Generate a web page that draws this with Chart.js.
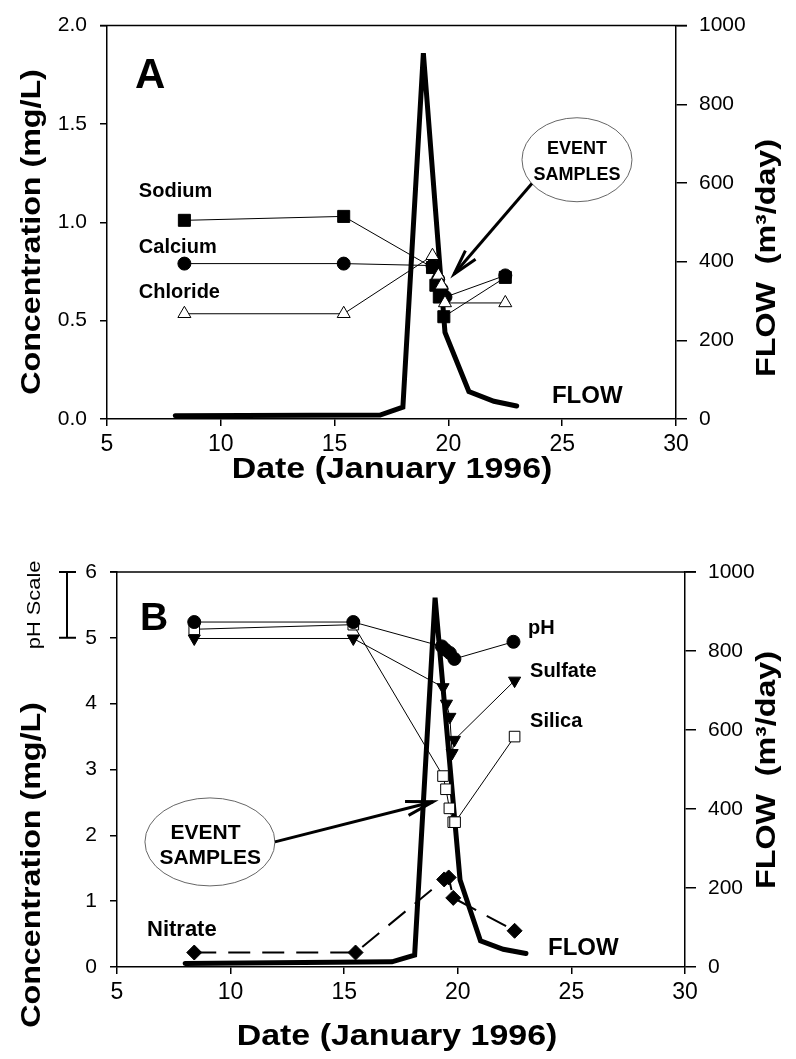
<!DOCTYPE html>
<html>
<head>
<meta charset="utf-8">
<script src="https://cdn.jsdelivr.net/npm/chart.js@4.4.1/dist/chart.umd.min.js"></script>
<style>
html, body { margin: 0; padding: 0; background: #fff; }
#wrap { position: relative; width: 796px; height: 1059px; }
canvas { position: absolute; left: 0; }
</style>
</head>
<body>
<div id="wrap">
  <canvas id="chartA" width="796" height="500" style="top:0"></canvas>
  <canvas id="chartB" width="796" height="539" style="top:520px"></canvas>
</div>
<script>
const FONT = '"Liberation Sans", Arial, Helvetica, sans-serif';

// ---- panel A : major ions ----
const flowDaysA = [8, 17, 18, 18.9, 19.85, 20.9, 22, 23];
const flowA = [8, 10, 30, 930, 220, 70, 45, 33];
const sodiumDays = [8.4, 15.4, 19.3, 19.45, 19.6, 19.8, 22.5];
const sodium = [1.01, 1.03, 0.77, 0.68, 0.62, 0.52, 0.72];
const calciumDays = [8.4, 15.4, 19.3, 19.55, 19.7, 19.87, 22.5];
const calcium = [0.79, 0.79, 0.78, 0.71, 0.66, 0.62, 0.73];
const chlorideDays = [8.4, 15.4, 19.3, 19.56, 19.7, 19.85, 22.5];
const chloride = [0.535, 0.535, 0.83, 0.73, 0.68, 0.59, 0.59];

// ---- panel B : pH, sulfate, silica, nitrate ----
const flowDaysB = [8, 17.1, 18.1, 19.0, 20.1, 21.0, 22.0, 23.0];
const flowB = [9, 13, 30, 935, 220, 66, 45, 34];
const phDays = [8.4, 15.4, 19.3, 19.45, 19.65, 19.85, 22.45];
const ph = [5.24, 5.24, 4.87, 4.82, 4.77, 4.68, 4.94];
const sulfateDays = [8.4, 15.4, 19.35, 19.5, 19.65, 19.75, 19.85, 22.5];
const sulfate = [4.99, 4.99, 4.25, 4.0, 3.8, 3.25, 3.45, 4.35];
const silicaDays = [8.4, 15.4, 19.35, 19.48, 19.63, 19.8, 19.88, 22.5];
const silica = [5.13, 5.2, 2.9, 2.7, 2.41, 2.2, 2.2, 3.5];
const nitrateDays = [8.4, 15.5, 19.4, 19.6, 19.8, 22.5];
const nitrate = [0.22, 0.22, 1.33, 1.36, 1.05, 0.55];

function pts(xs, ys) { return xs.map((x, i) => ({x: x, y: ys[i]})); }

function series(label, xs, ys, style, r, fill, rot, dash) {
  return {
    label: label, data: pts(xs, ys), yAxisID: 'y',
    borderColor: '#000', borderWidth: dash ? 2 : 1, borderDash: dash || [],
    pointStyle: style, pointRadius: r, pointRotation: rot || 0,
    pointBackgroundColor: fill, pointBorderColor: '#000', pointBorderWidth: 1,
    tension: 0, fill: false
  };
}

function flowSet(xs, ys) {
  return {
    label: 'FLOW', data: pts(xs, ys), yAxisID: 'y2',
    borderColor: '#000', borderWidth: 5, pointRadius: 0,
    borderCapStyle: 'round', tension: 0, fill: false
  };
}

function scales(xh, lw, rw, ymax, ystep, fmt) {
  const grid = {drawOnChartArea: false, color: '#000', lineWidth: 1.5};
  const border = {color: '#000', width: 1.5};
  return {
    x: {type: 'linear', min: 5, max: 30, position: 'bottom',
      ticks: {stepSize: 5, color: '#000', font: {family: FONT, size: 23}, padding: 5, maxRotation: 0},
      grid: Object.assign({tickLength: 7}, grid), border: border,
      afterFit: s => { s.height = xh; }},
    y: {type: 'linear', min: 0, max: ymax, position: 'left',
      ticks: {stepSize: ystep, color: '#000', font: {family: FONT, size: 21}, padding: 13, callback: fmt},
      grid: Object.assign({tickLength: 7}, grid), border: border,
      afterFit: s => { s.width = lw; }},
    y2: {type: 'linear', min: 0, max: 1000, position: 'right',
      ticks: {stepSize: 200, color: '#000', font: {family: FONT, size: 21}, padding: 12, callback: v => String(v)},
      grid: Object.assign({tickLength: 11}, grid), border: border,
      afterFit: s => { s.width = rw; }}
  };
}

function text(ctx, str, x, y, size, opt) {
  opt = opt || {};
  ctx.save();
  ctx.translate(x, y);
  if (opt.rot) ctx.rotate(opt.rot);
  ctx.scale(opt.sx || 1, opt.sy || 1);
  ctx.font = (opt.weight || 'bold') + ' ' + size + 'px ' + FONT;
  ctx.textAlign = opt.align || 'left';
  ctx.textBaseline = 'alphabetic';
  ctx.fillStyle = '#000';
  ctx.fillText(str, 0, size * 0.358);
  ctx.restore();
}

function arrow(ctx, x1, y1, x2, y2, len, ang) {
  ctx.save();
  ctx.strokeStyle = '#000';
  ctx.lineWidth = 3;
  ctx.beginPath(); ctx.moveTo(x1, y1); ctx.lineTo(x2, y2); ctx.stroke();
  const a = Math.atan2(y1 - y2, x1 - x2);
  ctx.beginPath();
  ctx.moveTo(x2 + len * Math.cos(a + ang), y2 + len * Math.sin(a + ang));
  ctx.lineTo(x2, y2);
  ctx.lineTo(x2 + len * Math.cos(a - ang), y2 + len * Math.sin(a - ang));
  ctx.stroke();
  ctx.restore();
}

function ellipse(ctx, cx, cy, rx, ry) {
  ctx.save();
  ctx.strokeStyle = '#666';
  ctx.lineWidth = 1;
  ctx.beginPath(); ctx.ellipse(cx, cy, rx, ry, 0, 0, Math.PI * 2); ctx.stroke();
  ctx.restore();
}

function topLine(chart) {
  const a = chart.chartArea, ctx = chart.ctx;
  ctx.save();
  ctx.strokeStyle = '#000'; ctx.lineWidth = 1.5;
  ctx.beginPath(); ctx.moveTo(a.left - 7, a.top); ctx.lineTo(a.right + 11, a.top); ctx.stroke();
  ctx.restore();
}

const decorA = {
  id: 'decorA',
  afterDraw(chart) {
    const ctx = chart.ctx, X = v => chart.scales.x.getPixelForValue(v), Y = v => chart.scales.y.getPixelForValue(v);
    topLine(chart);
    text(ctx, 'A', X(6.23), Y(1.76), 42);
    text(ctx, 'Sodium', X(6.4), Y(1.167), 20);
    text(ctx, 'Calcium', X(6.4), Y(0.882), 20);
    text(ctx, 'Chloride', X(6.4), Y(0.654), 20);
    text(ctx, 'FLOW', X(24.55), Y(0.127), 24);
    ellipse(ctx, X(25.65), Y(1.318), 55, 42);
    text(ctx, 'EVENT', X(25.65), Y(1.38), 18, {align: 'center'});
    text(ctx, 'SAMPLES', X(25.65), Y(1.25), 18, {align: 'center'});
    arrow(ctx, X(23.67), Y(1.197), X(20.25), Y(0.737), 26, 0.26);
    text(ctx, 'Concentration (mg/L)', 30, 232, 28, {rot: -Math.PI / 2, align: 'center', sx: 1.15});
    text(ctx, 'FLOW  (m³/day)', 765, 258, 28, {rot: -Math.PI / 2, align: 'center', sx: 1.15});
    text(ctx, 'Date (January 1996)', 392, 468, 29, {align: 'center', sx: 1.17});
  }
};

const decorB = {
  id: 'decorB',
  afterDraw(chart) {
    const ctx = chart.ctx, X = v => chart.scales.x.getPixelForValue(v), Y = v => chart.scales.y.getPixelForValue(v);
    topLine(chart);
    text(ctx, 'B', X(6.01), Y(5.33), 39);
    text(ctx, 'pH', X(23.09), Y(5.16), 20);
    text(ctx, 'Sulfate', X(23.18), Y(4.51), 20);
    text(ctx, 'Silica', X(23.18), Y(3.75), 20);
    text(ctx, 'Nitrate', X(6.32), Y(0.59), 22);
    text(ctx, 'FLOW', X(23.97), Y(0.32), 24);
    ellipse(ctx, X(9.09), Y(1.9), 65, 44);
    text(ctx, 'EVENT', X(8.9), Y(2.055), 21, {align: 'center'});
    text(ctx, 'SAMPLES', X(9.1), Y(1.675), 21, {align: 'center'});
    arrow(ctx, X(11.95), Y(1.9), X(18.91), Y(2.51), 28, 0.26);
    // pH scale bracket: one pH unit on the concentration axis
    const b = 67;
    ctx.save();
    ctx.strokeStyle = '#000'; ctx.lineWidth = 2;
    ctx.beginPath();
    ctx.moveTo(b, Y(6)); ctx.lineTo(b, Y(5));
    ctx.moveTo(b - 8, Y(6)); ctx.lineTo(b + 9, Y(6));
    ctx.moveTo(b - 8, Y(5)); ctx.lineTo(b + 9, Y(5));
    ctx.stroke();
    ctx.restore();
    text(ctx, 'pH Scale', 33, Y(5.5), 19, {rot: -Math.PI / 2, align: 'center', weight: 'normal', sx: 1.15});
    text(ctx, 'Concentration (mg/L)', 30, 345, 28, {rot: -Math.PI / 2, align: 'center', sx: 1.15});
    text(ctx, 'FLOW  (m³/day)', 765, 250, 28, {rot: -Math.PI / 2, align: 'center', sx: 1.15});
    text(ctx, 'Date (January 1996)', 397, 515, 29, {align: 'center', sx: 1.17});
  }
};

function makeChart(id, datasets, sc, pad, plugin) {
  return new Chart(document.getElementById(id), {
    type: 'line',
    data: {datasets: datasets},
    options: {
      responsive: false, animation: false,
      layout: {padding: pad, autoPadding: false},
      plugins: {legend: {display: false}, tooltip: {enabled: false}},
      scales: sc
    },
    plugins: [plugin]
  });
}

makeChart('chartA', [
  series('Chloride', chlorideDays, chloride, 'triangle', 7.5, '#fff'),
  series('Calcium', calciumDays, calcium, 'circle', 6.5, '#000'),
  series('Sodium', sodiumDays, sodium, 'rect', 8.5, '#000'),
  flowSet(flowDaysA, flowA)
], scales(81, 107, 120, 2, 0.5, v => v.toFixed(1)), {top: 23, left: 0, right: 0, bottom: 0}, decorA);

makeChart('chartB', [
  series('pH', phDays, ph, 'circle', 6.5, '#000'),
  series('Silica', silicaDays, silica, 'rect', 7.5, '#fff'),
  series('Sulfate', sulfateDays, sulfate, 'triangle', 7, '#000', 180),
  series('Nitrate', nitrateDays, nitrate, 'rectRot', 7.5, '#000', 0, [22, 12]),
  flowSet(flowDaysB, flowB)
], scales(92, 117, 111, 6, 1, v => v), {top: 52, left: 0, right: 0, bottom: 0}, decorB);
</script>
</body>
</html>
